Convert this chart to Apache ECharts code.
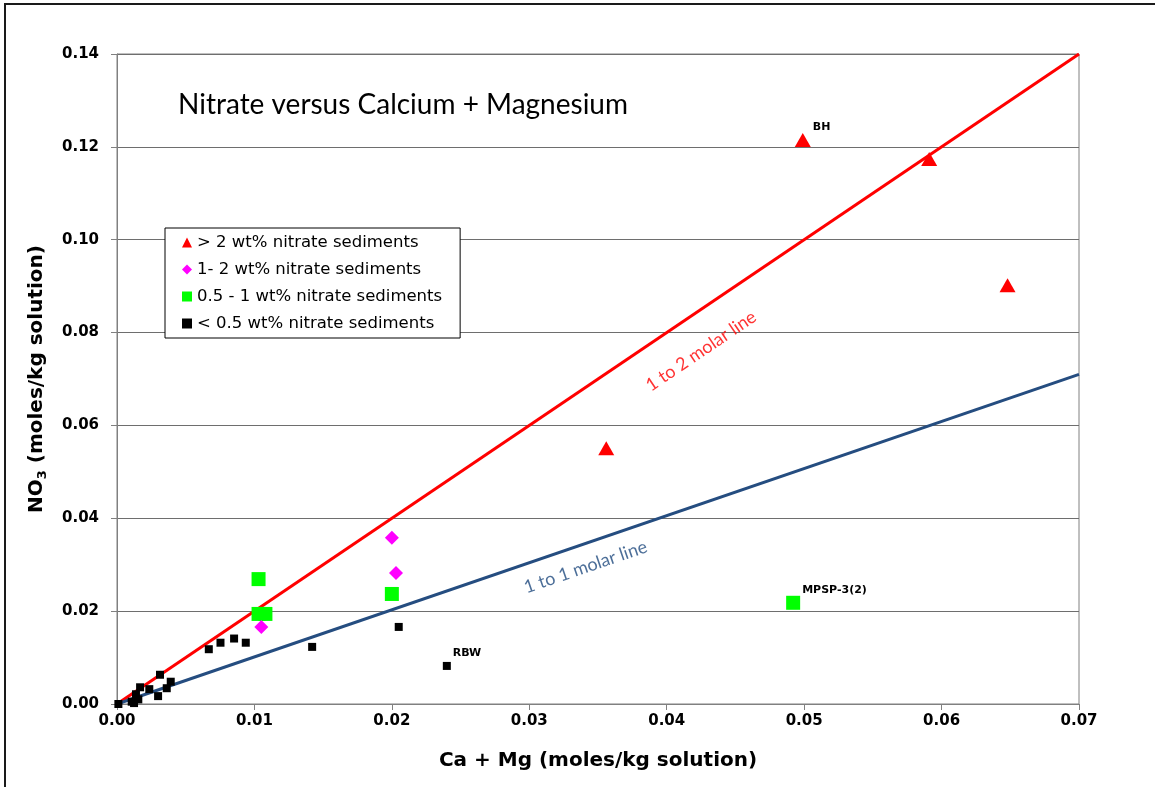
<!DOCTYPE html>
<html>
<head>
<meta charset="utf-8">
<script src="https://cdn.jsdelivr.net/npm/echarts@6/dist/echarts.min.js"></script>
<style>
  html, body { margin: 0; padding: 0; background: #ffffff; }
  #chart { width: 1155px; height: 787px; }
</style>
</head>
<body>
<div id="chart"></div>
<script>
// > 2 wt% nitrate sediments
const redX = [0.0499, 0.0591, 0.0648, 0.0356];
const redY = [0.1215, 0.1174, 0.0902, 0.0551];
const redNames = ['BH', '', '', ''];

// 1- 2 wt% nitrate sediments
const magX = [0.0200, 0.0203, 0.0105];
const magY = [0.0358, 0.0282, 0.0166];

// 0.5 - 1 wt% nitrate sediments
const greenX = [0.0103, 0.0103, 0.0108, 0.0200, 0.0492];
const greenY = [0.0269, 0.0194, 0.0194, 0.0237, 0.0218];
const greenNames = ['', '', '', '', 'MPSP-3(2)'];

// < 0.5 wt% nitrate sediments
const blackX = [0.0001, 0.00107, 0.00124, 0.00138, 0.00155, 0.00168, 0.00235, 0.00299,
                0.00313, 0.00362, 0.00391, 0.00668, 0.00753, 0.00852, 0.00937, 0.0142,
                0.0205, 0.0240];
const blackY = [0.0000, 0.0005, 0.0002, 0.0021, 0.0010, 0.0036, 0.0032, 0.0017,
                0.0063, 0.0034, 0.0048, 0.0118, 0.0132, 0.0141, 0.0132, 0.0123,
                0.0166, 0.0082];
const blackNames = ['', '', '', '', '', '', '', '', '', '', '', '', '', '', '', '', '', 'RBW'];

// Reference molar lines (NO3 : Ca+Mg)
const lineX = [0, 0.07];
const twoToOneY = [0, 0.14];
const oneToOneY = [0, 0.071];

// Where the line captions sit, in data units
const captionTwo = [0.0425, 0.0760];
const captionOne = [0.0341, 0.0295];

const seriesNames = [
  '> 2 wt% nitrate sediments',
  '1- 2 wt% nitrate sediments',
  '0.5 - 1 wt% nitrate sediments',
  '< 0.5 wt% nitrate sediments'
];

const xTicks = { min: 0, max: 0.07, interval: 0.01 };
const yTicks = { min: 0, max: 0.14, interval: 0.02 };

function pts(xs, ys, names) {
  return xs.map((x, i) => ({ name: names ? names[i] : '', value: [x, ys[i]] }));
}

const tickFont = 'DejaVu Sans';
const pointLabel = {
  show: true,
  formatter: p => p.name,
  position: 'right',
  offset: [0, -13],
  distance: 2,
  color: '#000',
  fontFamily: 'DejaVu Sans',
  fontWeight: 'bold',
  fontSize: 11
};

const chart = echarts.init(document.getElementById('chart'), null, { renderer: 'canvas' });

chart.setOption({
  animation: false,
  backgroundColor: '#ffffff',
  grid: {
    left: 117, right: 76, top: 54, bottom: 83,
    show: true, borderColor: '#808080', borderWidth: 1, backgroundColor: 'transparent'
  },
  title: {
    text: 'Nitrate versus Calcium + Magnesium',
    left: 173, top: 86,
    textStyle: { fontFamily: 'Lato', fontWeight: 'normal', fontSize: 28, color: '#000' }
  },
  legend: {
    orient: 'vertical',
    left: 165, top: 228,
    padding: [6, 18, 6, 17],
    itemGap: 10,
    itemWidth: 10, itemHeight: 10,
    backgroundColor: '#ffffff',
    borderColor: '#000000', borderWidth: 1, borderRadius: 0,
    textStyle: { fontFamily: 'DejaVu Sans', fontSize: 16.5, color: '#000' },
    data: [
      { name: seriesNames[0], icon: 'triangle' },
      { name: seriesNames[1], icon: 'diamond' },
      { name: seriesNames[2], icon: 'rect' },
      { name: seriesNames[3], icon: 'rect' }
    ]
  },
  xAxis: {
    type: 'value',
    min: xTicks.min, max: xTicks.max, interval: xTicks.interval,
    name: 'Ca + Mg (moles/kg solution)',
    nameLocation: 'middle', nameGap: 47,
    nameTextStyle: { fontFamily: tickFont, fontWeight: 'bold', fontSize: 20, color: '#000' },
    axisLine: { show: true, lineStyle: { color: '#808080', width: 1 } },
    axisTick: { show: true, inside: false, length: 6, lineStyle: { color: '#808080' } },
    axisLabel: {
      fontFamily: tickFont, fontWeight: 'bold', fontSize: 15, color: '#000', margin: 10,
      formatter: v => v.toFixed(2)
    },
    splitLine: { show: false }
  },
  yAxis: {
    type: 'value',
    min: yTicks.min, max: yTicks.max, interval: yTicks.interval,
    name: '{b|NO}{s|3}{b| (moles/kg solution)}',
    nameLocation: 'middle', nameGap: 68, nameRotate: 90,
    nameTextStyle: {
      fontFamily: tickFont, fontWeight: 'bold', fontSize: 20, color: '#000',
      rich: {
        b: { fontFamily: tickFont, fontWeight: 'bold', fontSize: 20, color: '#000', lineHeight: 24 },
        s: { fontFamily: tickFont, fontWeight: 'bold', fontSize: 13, color: '#000', verticalAlign: 'bottom', lineHeight: 24, padding: [9, 0, 0, 0] }
      }
    },
    axisLine: { show: true, lineStyle: { color: '#808080', width: 1 } },
    axisTick: { show: true, inside: false, length: 6, lineStyle: { color: '#808080' } },
    axisLabel: {
      fontFamily: tickFont, fontWeight: 'bold', fontSize: 15, color: '#000', margin: 18,
      formatter: v => v.toFixed(2)
    },
    splitLine: { show: true, lineStyle: { color: '#6e6e6e', width: 1 } }
  },
  series: [
    {
      name: 'twoToOne', type: 'line', silent: true, symbol: 'none', z: 3,
      data: lineX.map((x, i) => [x, twoToOneY[i]]),
      lineStyle: { color: '#ff0000', width: 3 }
    },
    {
      name: 'oneToOne', type: 'line', silent: true, symbol: 'none', z: 3,
      data: lineX.map((x, i) => [x, oneToOneY[i]]),
      lineStyle: { color: '#254d80', width: 3 }
    },
    {
      name: 'captions', type: 'scatter', silent: true, symbolSize: 0, z: 6,
      data: [
        {
          value: captionTwo,
          label: { show: true, position: 'inside', formatter: '1 to 2 molar line', rotate: 34.1,
                   color: '#ff0000', fontFamily: 'Lato', fontSize: 18 }
        },
        {
          value: captionOne,
          label: { show: true, position: 'inside', formatter: '1 to 1 molar line', rotate: 18.9,
                   color: '#1f4a7e', fontFamily: 'Lato', fontSize: 18 }
        }
      ]
    },
    {
      name: seriesNames[3], type: 'scatter', symbol: 'rect', symbolSize: 8, z: 4,
      itemStyle: { color: '#000000', opacity: 1 },
      data: pts(blackX, blackY, blackNames),
      label: pointLabel
    },
    {
      name: seriesNames[2], type: 'scatter', symbol: 'rect', symbolSize: 14, z: 4,
      itemStyle: { color: '#00ff00', opacity: 1 },
      data: pts(greenX, greenY, greenNames),
      label: pointLabel
    },
    {
      name: seriesNames[1], type: 'scatter', symbol: 'diamond', symbolSize: 14, z: 4,
      itemStyle: { color: '#ff00ff', opacity: 1 },
      data: pts(magX, magY)
    },
    {
      name: seriesNames[0], type: 'scatter', symbol: 'triangle', symbolSize: [16, 14], z: 4,
      itemStyle: { color: '#ff0000', opacity: 1 },
      data: pts(redX, redY, redNames),
      label: pointLabel
    }
  ],
  graphic: [
    {
      type: 'rect', silent: true, z: 100,
      shape: { x: 5, y: 4, width: 1400, height: 1000 },
      style: { fill: 'none', stroke: '#1a1a1a', lineWidth: 2 }
    }
  ]
});
</script>
</body>
</html>
